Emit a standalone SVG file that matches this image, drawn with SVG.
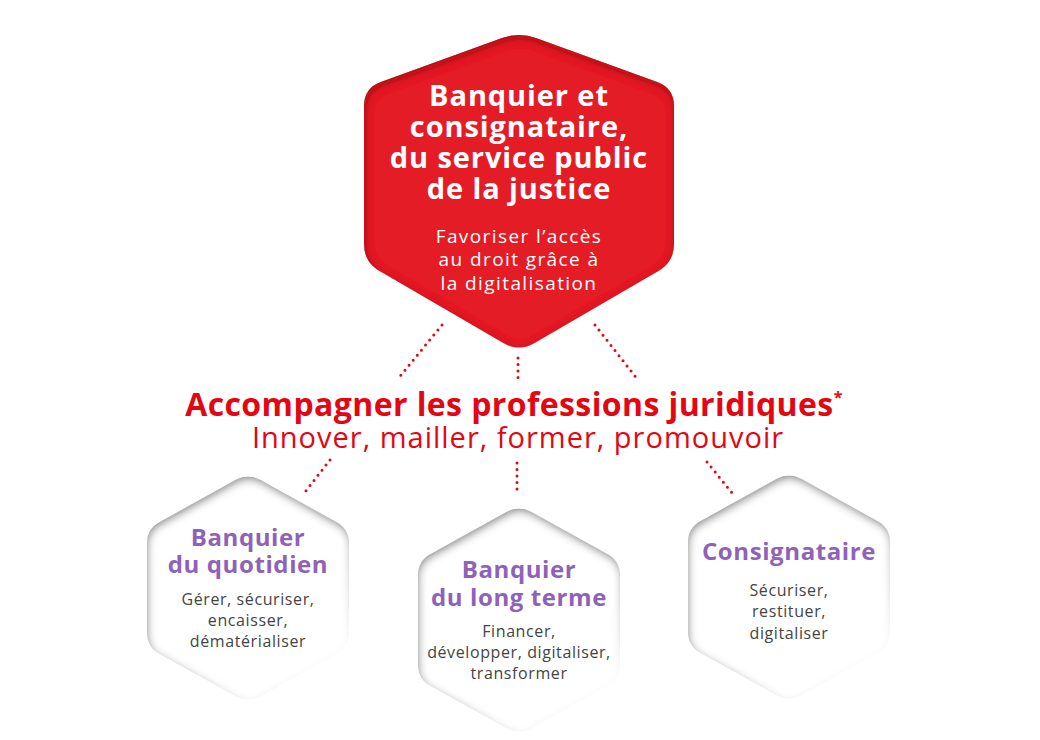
<svg xmlns="http://www.w3.org/2000/svg" width="1040" height="740" viewBox="0 0 1040 740">
<style>
.t1{font-family:"Open Sans","Liberation Sans",sans-serif;font-weight:700;font-size:29px;fill:#fff;text-anchor:middle;letter-spacing:0.9px}
.t2{font-family:"Open Sans","Liberation Sans",sans-serif;font-size:19px;fill:#fff;text-anchor:middle;letter-spacing:1.4px}
.h1{font-family:"Open Sans","Liberation Sans",sans-serif;font-weight:700;font-size:32px;fill:#e30613;text-anchor:middle;letter-spacing:0.4px}
.h2{font-family:"Open Sans","Liberation Sans",sans-serif;font-size:29px;fill:#e30613;text-anchor:middle;letter-spacing:1px}
.p1{font-family:"Open Sans","Liberation Sans",sans-serif;font-weight:700;font-size:24px;fill:#8e62b9;text-anchor:middle;letter-spacing:0.6px}
.p2{font-family:"Open Sans","Liberation Sans",sans-serif;font-size:16px;fill:#444;text-anchor:middle;letter-spacing:0.6px}
.dot{fill:none;stroke:#e30613;stroke-width:3;stroke-linecap:round;stroke-dasharray:0 6.5}
</style>
<defs>
<path id="whex" d="M-12.2,6.8 Q0,0 12.2,6.8 L88.8,49.2 Q101,56 101,70 L101,160 Q101,174 88.8,180.8 L12.2,223.2 Q0,230 -12.2,223.2 L-88.8,180.8 Q-101,174 -101,160 L-101,70 Q-101,56 -88.8,49.2 Z"/>
<filter id="innerW" x="-10%" y="-10%" width="120%" height="120%">
<feFlood flood-color="#808080" result="f"/>
<feComposite in="f" in2="SourceAlpha" operator="out" result="o"/>
<feGaussianBlur in="o" stdDeviation="4" result="b"/>
<feOffset in="b" dx="1" dy="3" result="ob"/>
<feComposite in="ob" in2="SourceAlpha" operator="in" result="s"/>
<feMerge><feMergeNode in="SourceGraphic"/><feMergeNode in="s"/></feMerge>
</filter>
<filter id="innerR" x="-10%" y="-10%" width="120%" height="120%">
<feFlood flood-color="#9e0a10" result="f"/>
<feComposite in="f" in2="SourceAlpha" operator="out" result="o"/>
<feGaussianBlur in="o" stdDeviation="4" result="b"/>
<feOffset in="b" dx="1" dy="3" result="ob"/>
<feComposite in="ob" in2="SourceAlpha" operator="in" result="s"/>
<feMerge><feMergeNode in="SourceGraphic"/><feMergeNode in="s"/></feMerge>
</filter>
<linearGradient id="fade" x1="0.1" y1="0.15" x2="0.75" y2="1">
<stop offset="0" stop-color="#fff"/>
<stop offset="0.6" stop-color="#fff"/>
<stop offset="1" stop-color="#fff" stop-opacity="0"/>
</linearGradient>
<mask id="fadeMask" maskContentUnits="objectBoundingBox">
<rect x="0" y="0" width="1" height="1" fill="url(#fade)"/>
</mask>
</defs>
<rect width="1040" height="740" fill="#fff"/>

<g id="connectors">
<line class="dot" x1="442" y1="325" x2="397" y2="380"/>
<line class="dot" x1="518" y1="358" x2="518" y2="378"/>
<line class="dot" x1="595" y1="325" x2="638" y2="380"/>
<line class="dot" x1="330" y1="460" x2="305" y2="492"/>
<line class="dot" x1="517" y1="463" x2="517" y2="495"/>
<line class="dot" x1="707" y1="462" x2="732" y2="493"/>
</g>

<g id="node-main">
<path d="M502.1,38.1 Q519,32 535.9,38.1 L657.1,81.9 Q674,88 674,106 L674,244 Q674,262 658.4,271 L534.6,343 Q519,352 503.4,343 L379.6,271 Q364,262 364,244 L364,106 Q364,88 380.9,81.9 Z" fill="#e41f26" filter="url(#innerR)"/>
<text class="t1" x="519" y="106">Banquier et</text>
<text class="t1" x="519" y="137">consignataire,</text>
<text class="t1" x="519" y="168">du service public</text>
<text class="t1" x="519" y="199">de la justice</text>
<text class="t2" x="519" y="243">Favoriser l’accès</text>
<text class="t2" x="519" y="266">au droit grâce à</text>
<text class="t2" x="519" y="290">la digitalisation</text>
</g>

<g id="node-accompagner">
<text class="h1" x="514" y="416">Accompagner les professions juridiques<tspan font-size="16" dy="-13">*</tspan></text>
<text class="h2" x="518" y="448">Innover, mailler, former, promouvoir</text>
</g>

<g id="node-quotidien">
<g mask="url(#fadeMask)"><use href="#whex" transform="translate(248,473)" fill="#fff" filter="url(#innerW)"/></g>
<text class="p1" x="248" y="546">Banquier</text>
<text class="p1" x="248" y="573">du quotidien</text>
<text class="p2" x="248" y="605">Gérer, sécuriser,</text>
<text class="p2" x="248" y="626">encaisser,</text>
<text class="p2" x="248" y="647">dématérialiser</text>
</g>

<g id="node-longterme">
<g mask="url(#fadeMask)"><use href="#whex" transform="translate(519,505)" fill="#fff" filter="url(#innerW)"/></g>
<text class="p1" x="519" y="578">Banquier</text>
<text class="p1" x="519" y="606">du long terme</text>
<text class="p2" x="519" y="637">Financer,</text>
<text class="p2" x="519" y="658">développer, digitaliser,</text>
<text class="p2" x="519" y="679">transformer</text>
</g>

<g id="node-consignataire">
<g mask="url(#fadeMask)"><use href="#whex" transform="translate(789,472)" fill="#fff" filter="url(#innerW)"/></g>
<text class="p1" x="789" y="560">Consignataire</text>
<text class="p2" x="789" y="596">Sécuriser,</text>
<text class="p2" x="789" y="617">restituer,</text>
<text class="p2" x="789" y="639">digitaliser</text>
</g>
</svg>
